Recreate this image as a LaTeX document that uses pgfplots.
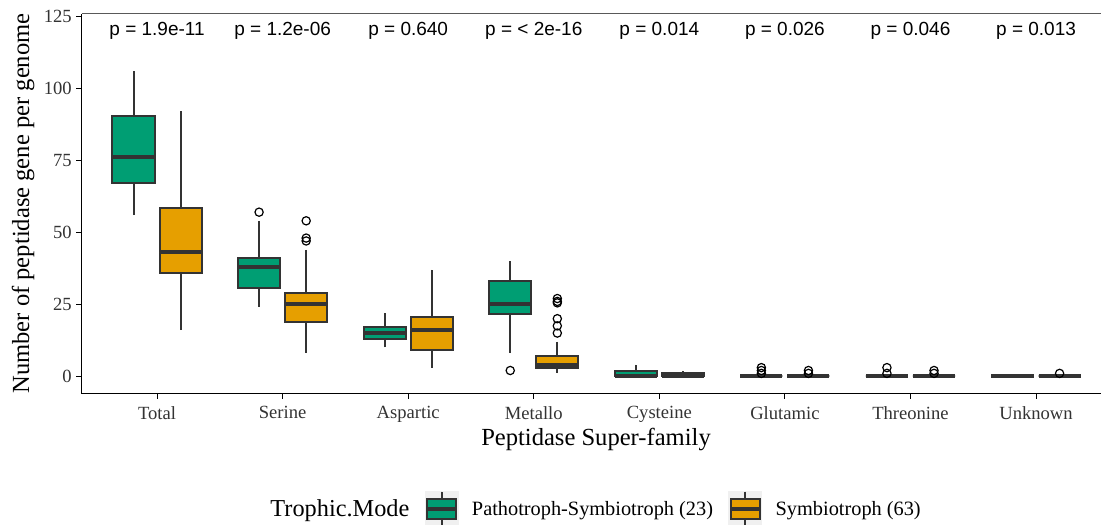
\documentclass[border=0pt]{standalone}
\usepackage{fontspec}
\setmainfont{Liberation Serif}
\newfontfamily\pfont{Liberation Sans}
\usepackage{pgfplots}
\pgfplotsset{compat=1.18}
\usepgfplotslibrary{statistics}

\definecolor{psgreen}{HTML}{009E73}
\definecolor{symorange}{HTML}{E69F00}
\definecolor{boxline}{HTML}{333333}

\pgfplotsset{
  pbox/.style={
    boxplot prepared={draw direction=y, #1, box extend=0.335, whisker extend=0,
      every median/.style={draw=boxline, line width=3bp}},
    draw=boxline, line width=1.5bp,
    mark=o, mark size=3.1bp,
    mark options={draw=black, line width=0.9bp, fill=none, solid},
  },
  gbox/.style={pbox={#1}, fill=psgreen},
  obox/.style={pbox={#1}, fill=symorange},
  keyimg/.style={legend image code/.code={
    \fill[black!6] (0bp,-13bp) rectangle (24bp,13bp);
    \draw[boxline, line width=1.5bp] (12bp,-13bp) -- (12bp,13bp);
    \draw[boxline, line width=1.5bp, fill=#1] (1.2bp,-7.5bp) rectangle (22.8bp,7.5bp);
    \draw[boxline, line width=3bp] (1.2bp,0bp) -- (22.8bp,0bp);
    \path (32bp,0bp);
  }},
}

\begin{document}
\begin{tikzpicture}
\begin{axis}[
  name=ax,
  scale only axis,
  width=764.7bp, height=285bp,
  xmin=0.4, xmax=8.52,
  ymin=-6, ymax=126,
  axis x line*=bottom, axis y line*=left,
  axis line style={black, line width=0.8bp},
  xtick={1,...,8},
  xticklabels={Total,Serine,Aspartic,Metallo,Cysteine,Glutamic,Threonine,Unknown},
  ytick={0,25,50,75,100,125},
  tick align=outside,
  major tick length=4bp,
  tick style={black, line width=0.8bp},
  /pgf/number format/assume math mode=true,
  ticklabel style={font=\fontsize{14}{16}\selectfont, text=black!80},
  xticklabel style={yshift=-2bp},
  every axis x label/.style={at={(axis description cs:0.5044,-0.12)}, anchor=center},
  every axis y label/.style={at={(axis description cs:-0.0575,0.5)}, anchor=center, rotate=90},
  label style={font=\fontsize{18.5}{20}\selectfont},
  xlabel={Peptidase Super-family},
  ylabel={Number of peptidase gene per genome},
  legend style={at={(axis description cs:0.504,-0.304)}, anchor=center,
    draw=none, fill=none, legend columns=-1,
    font=\fontsize{15.3}{17}\selectfont,
    /tikz/every even column/.append style={column sep=9.5bp}},
  clip=false,
]
\addlegendimage{empty legend}
\addlegendentry{\fontsize{18.3}{20}\selectfont Trophic.Mode\hspace{4bp}}

% Total
\addplot[gbox={draw position=0.8125, lower whisker=56, lower quartile=67, median=76, upper quartile=90.5, upper whisker=106}, keyimg=psgreen] coordinates {};
\addlegendentry{Pathotroph-Symbiotroph (23)}
\addplot[obox={draw position=1.1875, lower whisker=16, lower quartile=36, median=43, upper quartile=58.5, upper whisker=92}, keyimg=symorange] coordinates {};
\addlegendentry{Symbiotroph (63)}

% Serine
\addplot[gbox={draw position=1.8125, lower whisker=24, lower quartile=30.5, median=38, upper quartile=41, upper whisker=54}, forget plot]
  table[row sep=\\, y index=0] {v\\ 57\\};
\addplot[obox={draw position=2.1875, lower whisker=8, lower quartile=19, median=25, upper quartile=29, upper whisker=44}, forget plot]
  table[row sep=\\, y index=0] {v\\ 54\\ 48\\ 47\\};

% Aspartic
\addplot[gbox={draw position=2.8125, lower whisker=10, lower quartile=13, median=15, upper quartile=17, upper whisker=22}, forget plot] coordinates {};
\addplot[obox={draw position=3.1875, lower whisker=3, lower quartile=9, median=16, upper quartile=20.5, upper whisker=37}, forget plot] coordinates {};

% Metallo
\addplot[gbox={draw position=3.8125, lower whisker=8, lower quartile=21.5, median=25, upper quartile=33, upper whisker=40}, forget plot]
  table[row sep=\\, y index=0] {v\\ 2\\};
\addplot[obox={draw position=4.1875, lower whisker=1, lower quartile=3, median=4, upper quartile=7, upper whisker=12}, forget plot]
  table[row sep=\\, y index=0] {v\\ 27\\ 26\\ 25.5\\ 20\\ 17.5\\ 15\\};

% Cysteine
\addplot[gbox={draw position=4.8125, lower whisker=0, lower quartile=0, median=0, upper quartile=2, upper whisker=4}, forget plot] coordinates {};
\addplot[obox={draw position=5.1875, lower whisker=0, lower quartile=0, median=0, upper quartile=1, upper whisker=2}, forget plot] coordinates {};

% Glutamic
\addplot[gbox={draw position=5.8125, lower whisker=0, lower quartile=0, median=0, upper quartile=0, upper whisker=0}, forget plot]
  table[row sep=\\, y index=0] {v\\ 1\\ 2\\ 3\\};
\addplot[obox={draw position=6.1875, lower whisker=0, lower quartile=0, median=0, upper quartile=0, upper whisker=0}, forget plot]
  table[row sep=\\, y index=0] {v\\ 1\\ 2\\};

% Threonine
\addplot[gbox={draw position=6.8125, lower whisker=0, lower quartile=0, median=0, upper quartile=0, upper whisker=0}, forget plot]
  table[row sep=\\, y index=0] {v\\ 1\\ 3\\};
\addplot[obox={draw position=7.1875, lower whisker=0, lower quartile=0, median=0, upper quartile=0, upper whisker=0}, forget plot]
  table[row sep=\\, y index=0] {v\\ 1\\ 2\\};

% Unknown
\addplot[gbox={draw position=7.8125, lower whisker=0, lower quartile=0, median=0, upper quartile=0, upper whisker=0}, forget plot] coordinates {};
\addplot[obox={draw position=8.1875, lower whisker=0, lower quartile=0, median=0, upper quartile=0, upper whisker=0}, forget plot]
  table[row sep=\\, y index=0] {v\\ 1\\};

% panel top edge
\draw[black!65, line width=0.7bp] (rel axis cs:0,1) -- (rel axis cs:1,1);

% Kruskal-Wallis p-values per super-family
\begin{scope}[every node/.style={font=\pfont\fontsize{14.3}{16}\selectfont, anchor=center}]
\node at (axis cs:1,120) {p = 1.9e-11};
\node at (axis cs:2,120) {p = 1.2e-06};
\node at (axis cs:3,120) {p = 0.640};
\node at (axis cs:4,120) {p = < 2e-16};
\node at (axis cs:5,120) {p = 0.014};
\node at (axis cs:6,120) {p = 0.026};
\node at (axis cs:7,120) {p = 0.046};
\node at (axis cs:8,120) {p = 0.013};
\end{scope}
\end{axis}
\pgfresetboundingbox
\path (ax.south west) ++(-61.3bp,-98.6bp) rectangle ++(825.75bp,393.75bp);
\end{tikzpicture}
\end{document}
